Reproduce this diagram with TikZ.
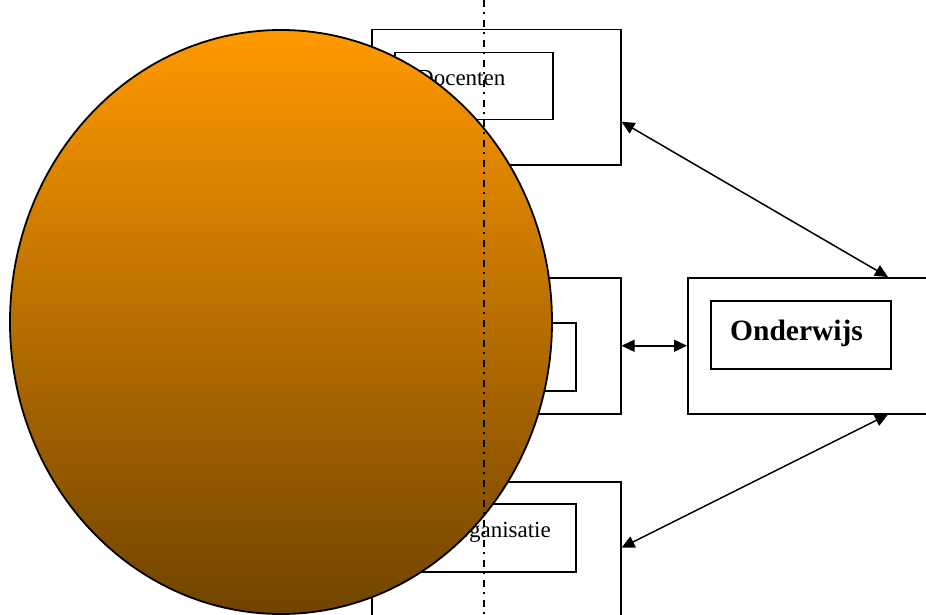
\documentclass[tikz,border=0pt]{standalone}
\usepackage{fontspec}
\setmainfont{Liberation Serif}
\usetikzlibrary{arrows.meta,shapes.geometric}
\definecolor{orangetop}{RGB}{255,153,0}
\definecolor{brownbot}{RGB}{112,68,0}
\begin{document}
\begin{tikzpicture}[x=1pt,y=-1pt,
  box/.style={draw=black, line width=1.5pt, fill=white, inner sep=0pt, anchor=north west},
  biarrow/.style={{Triangle[length=13pt,width=12pt]}-{Triangle[length=13pt,width=12pt]}, line width=1.5pt},
  lbl/.style={font=\fontsize{23}{26}\selectfont, inner sep=0pt},
  blbl/.style={font=\fontsize{29.5}{32}\selectfont\bfseries, inner sep=0pt},
  axis/.style={line width=1.5pt, dash pattern=on 7pt off 5pt on 2pt off 6pt},
  ball/.style={draw=black, line width=1.8pt, ellipse, inner sep=0pt, top color=orangetop, bottom color=brownbot}]
\useasboundingbox (0,0) rectangle (926,615);
\clip (0,0) rectangle (926,615);
% outer boxes
\node[box, minimum width=249pt, minimum height=135pt] (b1) at (371,29) {};
\node[box, minimum width=249pt, minimum height=136pt] (b2) at (371,277) {};
\node[box, minimum width=249pt, minimum height=180pt] (b3) at (371,481) {};
\node[box, minimum width=260pt, minimum height=136pt] (ond) at (687,277) {};
% inner boxes
\node[box, minimum width=158pt, minimum height=67pt] (i1) at (394,52) {};
\node[box, minimum width=158pt, minimum height=68pt] (i2) at (417,322) {};
\node[box, minimum width=158pt, minimum height=68pt] (i3) at (417,503) {};
\node[box, minimum width=180pt, minimum height=68pt] (i4) at (710,300) {};
% labels
\node[lbl, anchor=base west] (tdoc) at (417,86) {Docenten};
\node[lbl, anchor=base east] (torg) at (551,537) {Organisatie};
\node[blbl, anchor=base west] (tond) at (730,340) {Onderwijs};
% connectors
\draw[biarrow] ([yshift=-24.5pt]b1.east) -- ([xshift=201pt]ond.north west);
\draw[biarrow] (b2.east) -- (ond.west);
\draw[biarrow] ([yshift=24pt]b3.east) -- ([xshift=201pt]ond.south west);
% ball
\node[ball, minimum width=542pt, minimum height=584pt] (circ) at (281,322) {};
% dash-dot axis
\coordinate (axtop) at (484,0);
\coordinate (axbot) at (484,615);
\draw[axis] (axtop) -- (axbot);
\end{tikzpicture}
\end{document}
